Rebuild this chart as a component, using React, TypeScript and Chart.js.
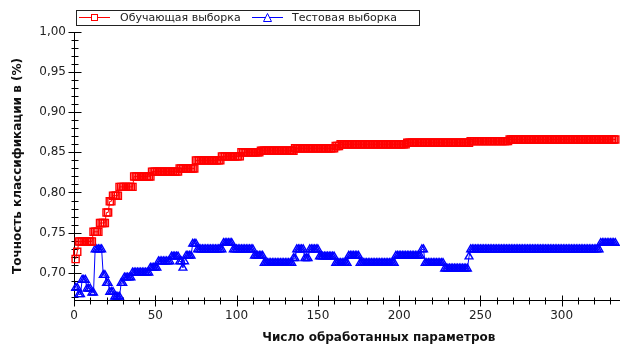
import React, { useEffect, useRef } from 'react';
import { Chart, registerables } from 'chart.js';

Chart.register(...registerables);

// Training accuracy: run starts (x) and value held until the next start
const trainStarts = [1, 2, 3, 12, 16, 20, 22, 24, 28, 37, 48, 65, 75, 91, 103, 115, 136, 161, 164, 205, 244, 268];
const trainValues = [0.717, 0.726, 0.739, 0.751, 0.762, 0.775, 0.789, 0.796, 0.807, 0.82, 0.826, 0.83, 0.84, 0.845, 0.85, 0.852, 0.855, 0.858, 0.86, 0.862, 0.864, 0.866];

// Test accuracy: run starts (x) and value held until the next start
const testStarts = [1, 3, 5, 8, 11, 13, 18, 20, 22, 25, 29, 31, 36, 47, 52, 60, 65, 67, 68, 69, 73, 76, 92, 98, 111, 117, 135, 137, 142, 145, 151, 161, 169, 176, 198, 214, 216, 228, 243, 244, 324];
const testValues = [0.681, 0.673, 0.691, 0.68, 0.675, 0.729, 0.697, 0.687, 0.676, 0.67, 0.687, 0.694, 0.7, 0.706, 0.714, 0.72, 0.714, 0.706, 0.714, 0.721, 0.736, 0.729, 0.737, 0.729, 0.721, 0.712, 0.718, 0.729, 0.718, 0.729, 0.72, 0.712, 0.721, 0.712, 0.721, 0.729, 0.712, 0.705, 0.72, 0.729, 0.737];

const lastX = 333;

const xTickValues = [0, 50, 100, 150, 200, 250, 300, 350];
const yTickValues = [0.7, 0.75, 0.8, 0.85, 0.9, 0.95, 1.0];

const seriesNames = ['Обучающая выборка', 'Тестовая выборка'];
const xTitle = 'Число обработанных параметров';
const yTitle = 'Точность классификации в (%)';

const X_MIN = 0;
const X_MAX = 375;
const Y_MIN = 0.666;
const Y_MAX = 1.0;

function expand(starts: number[], values: number[]) {
  const pts: { x: number; y: number }[] = [];
  for (let i = 0; i < starts.length; i++) {
    const end = i + 1 < starts.length ? starts[i + 1] - 1 : lastX;
    for (let x = starts[i]; x <= end; x++) pts.push({ x, y: values[i] });
  }
  return pts;
}

const FONT = "'DejaVu Sans', Verdana, sans-serif";

const axesPlugin = {
  id: 'axesTicks',
  beforeDatasetsDraw(chart: any) {
    const { ctx, scales } = chart;
    const xs = scales.x;
    const ys = scales.y;
    ctx.save();
    ctx.strokeStyle = '#000';
    ctx.lineWidth = 1;
    const ax = Math.round(xs.left) + 0.5;
    const ay = Math.round(ys.bottom) + 0.5;
    ctx.beginPath();
    ctx.moveTo(ax, Math.round(ys.top));
    ctx.lineTo(ax, ay);
    ctx.lineTo(xs.right, ay);
    for (let k = Math.ceil(Y_MIN * 100); k <= Math.round(Y_MAX * 100); k++) {
      const v = k / 100;
      const major = k % 5 === 0;
      const py = Math.round(ys.getPixelForValue(v)) + 0.5;
      const len = major ? 6 : 3;
      ctx.moveTo(ax - len, py);
      ctx.lineTo(ax + len + 1, py);
    }
    for (let v = X_MIN; v <= X_MAX; v += 10) {
      const major = v % 50 === 0;
      const px = Math.round(xs.getPixelForValue(v)) + 0.5;
      const len = major ? 5 : 3;
      ctx.moveTo(px, ay - len);
      ctx.lineTo(px, ay + len + 1);
    }
    ctx.stroke();
    ctx.restore();
  },
};

const legendPlugin = {
  id: 'customLegend',
  afterDraw(chart: any) {
    const { ctx } = chart;
    ctx.save();
    ctx.fillStyle = '#fff';
    ctx.fillRect(76, 10, 343, 15);
    ctx.strokeStyle = '#222';
    ctx.lineWidth = 1;
    ctx.strokeRect(76.5, 10.5, 343, 15);
    const cy = 17.5;
    ctx.strokeStyle = '#ff0000';
    ctx.beginPath();
    ctx.moveTo(79, cy);
    ctx.lineTo(110, cy);
    ctx.stroke();
    ctx.fillStyle = '#fff';
    ctx.fillRect(91, 14, 7, 7);
    ctx.strokeRect(91.5, 14.5, 6, 6);
    ctx.strokeStyle = '#0000ff';
    ctx.beginPath();
    ctx.moveTo(252, cy);
    ctx.lineTo(283, cy);
    ctx.stroke();
    ctx.beginPath();
    ctx.moveTo(267.5, 13.5);
    ctx.lineTo(271.5, 21.5);
    ctx.lineTo(263.5, 21.5);
    ctx.closePath();
    ctx.fillStyle = '#fff';
    ctx.fill();
    ctx.stroke();
    ctx.fillStyle = '#222';
    ctx.font = `11px ${FONT}`;
    ctx.textBaseline = 'middle';
    ctx.fillText(seriesNames[0], 120, cy + 0.5);
    ctx.fillText(seriesNames[1], 292, cy + 0.5);
    ctx.restore();
  },
};

export default function App() {
  const ref = useRef<HTMLCanvasElement | null>(null);
  useEffect(() => {
    if (!ref.current) return;
    const chart = new Chart(ref.current, {
      type: 'line',
      data: {
        datasets: [
          {
            label: seriesNames[0],
            data: expand(trainStarts, trainValues),
            borderColor: '#ff0000',
            borderWidth: 1,
            pointStyle: 'rect',
            pointRadius: 5,
            pointBorderWidth: 1.4,
            pointBackgroundColor: 'rgba(255,255,255,0)',
            pointBorderColor: '#ff0000',
            tension: 0,
            clip: false as any,
          },
          {
            label: seriesNames[1],
            data: expand(testStarts, testValues),
            borderColor: '#0000ff',
            borderWidth: 1,
            pointStyle: 'triangle',
            pointRadius: 4.5,
            pointBorderWidth: 1.4,
            pointBackgroundColor: 'rgba(255,255,255,0)',
            pointBorderColor: '#0000ff',
            tension: 0,
            clip: false as any,
          },
        ],
      },
      options: {
        animation: false,
        responsive: false,
        maintainAspectRatio: false,
        layout: { padding: { left: 0, top: 32, right: 2, bottom: 0 } },
        plugins: { legend: { display: false }, tooltip: { enabled: false } },
        scales: {
          x: {
            type: 'linear',
            min: X_MIN,
            max: X_MAX,
            grid: { display: false, drawTicks: false },
            border: { display: false },
            afterBuildTicks: (s: any) => {
              s.ticks = xTickValues.map((value) => ({ value }));
            },
            afterFit: (s: any) => {
              s.height = 46;
            },
            ticks: {
              autoSkip: false,
              maxRotation: 0,
              padding: 9,
              color: '#222',
              font: { family: FONT, size: 12 },
              callback: (v: any) => String(v),
            },
            title: {
              display: true,
              text: xTitle,
              color: '#111',
              font: { family: FONT, size: 12, weight: 'bold' },
              padding: { top: 0, bottom: 1 },
            },
          },
          y: {
            type: 'linear',
            min: Y_MIN,
            max: Y_MAX,
            grid: { display: false, drawTicks: false },
            border: { display: false },
            afterBuildTicks: (s: any) => {
              s.ticks = yTickValues.map((value) => ({ value }));
            },
            afterFit: (s: any) => {
              s.width = 74;
            },
            ticks: {
              autoSkip: false,
              padding: 8,
              color: '#222',
              font: { family: FONT, size: 12 },
              callback: (v: any) => Number(v).toFixed(2).replace('.', ','),
            },
            title: {
              display: true,
              text: yTitle,
              color: '#111',
              font: { family: FONT, size: 12, weight: 'bold' },
              padding: { top: 11, bottom: 0 },
            },
          },
        },
      },
      plugins: [axesPlugin, legendPlugin],
    });
    return () => chart.destroy();
  }, []);

  return (
    <div style={{ position: 'fixed', left: 0, top: 0, width: 620, height: 346, overflow: 'hidden', background: '#fff' }}>
      <canvas ref={ref} width={690} height={346} style={{ display: 'block', width: 690, height: 346 }} />
    </div>
  );
}
